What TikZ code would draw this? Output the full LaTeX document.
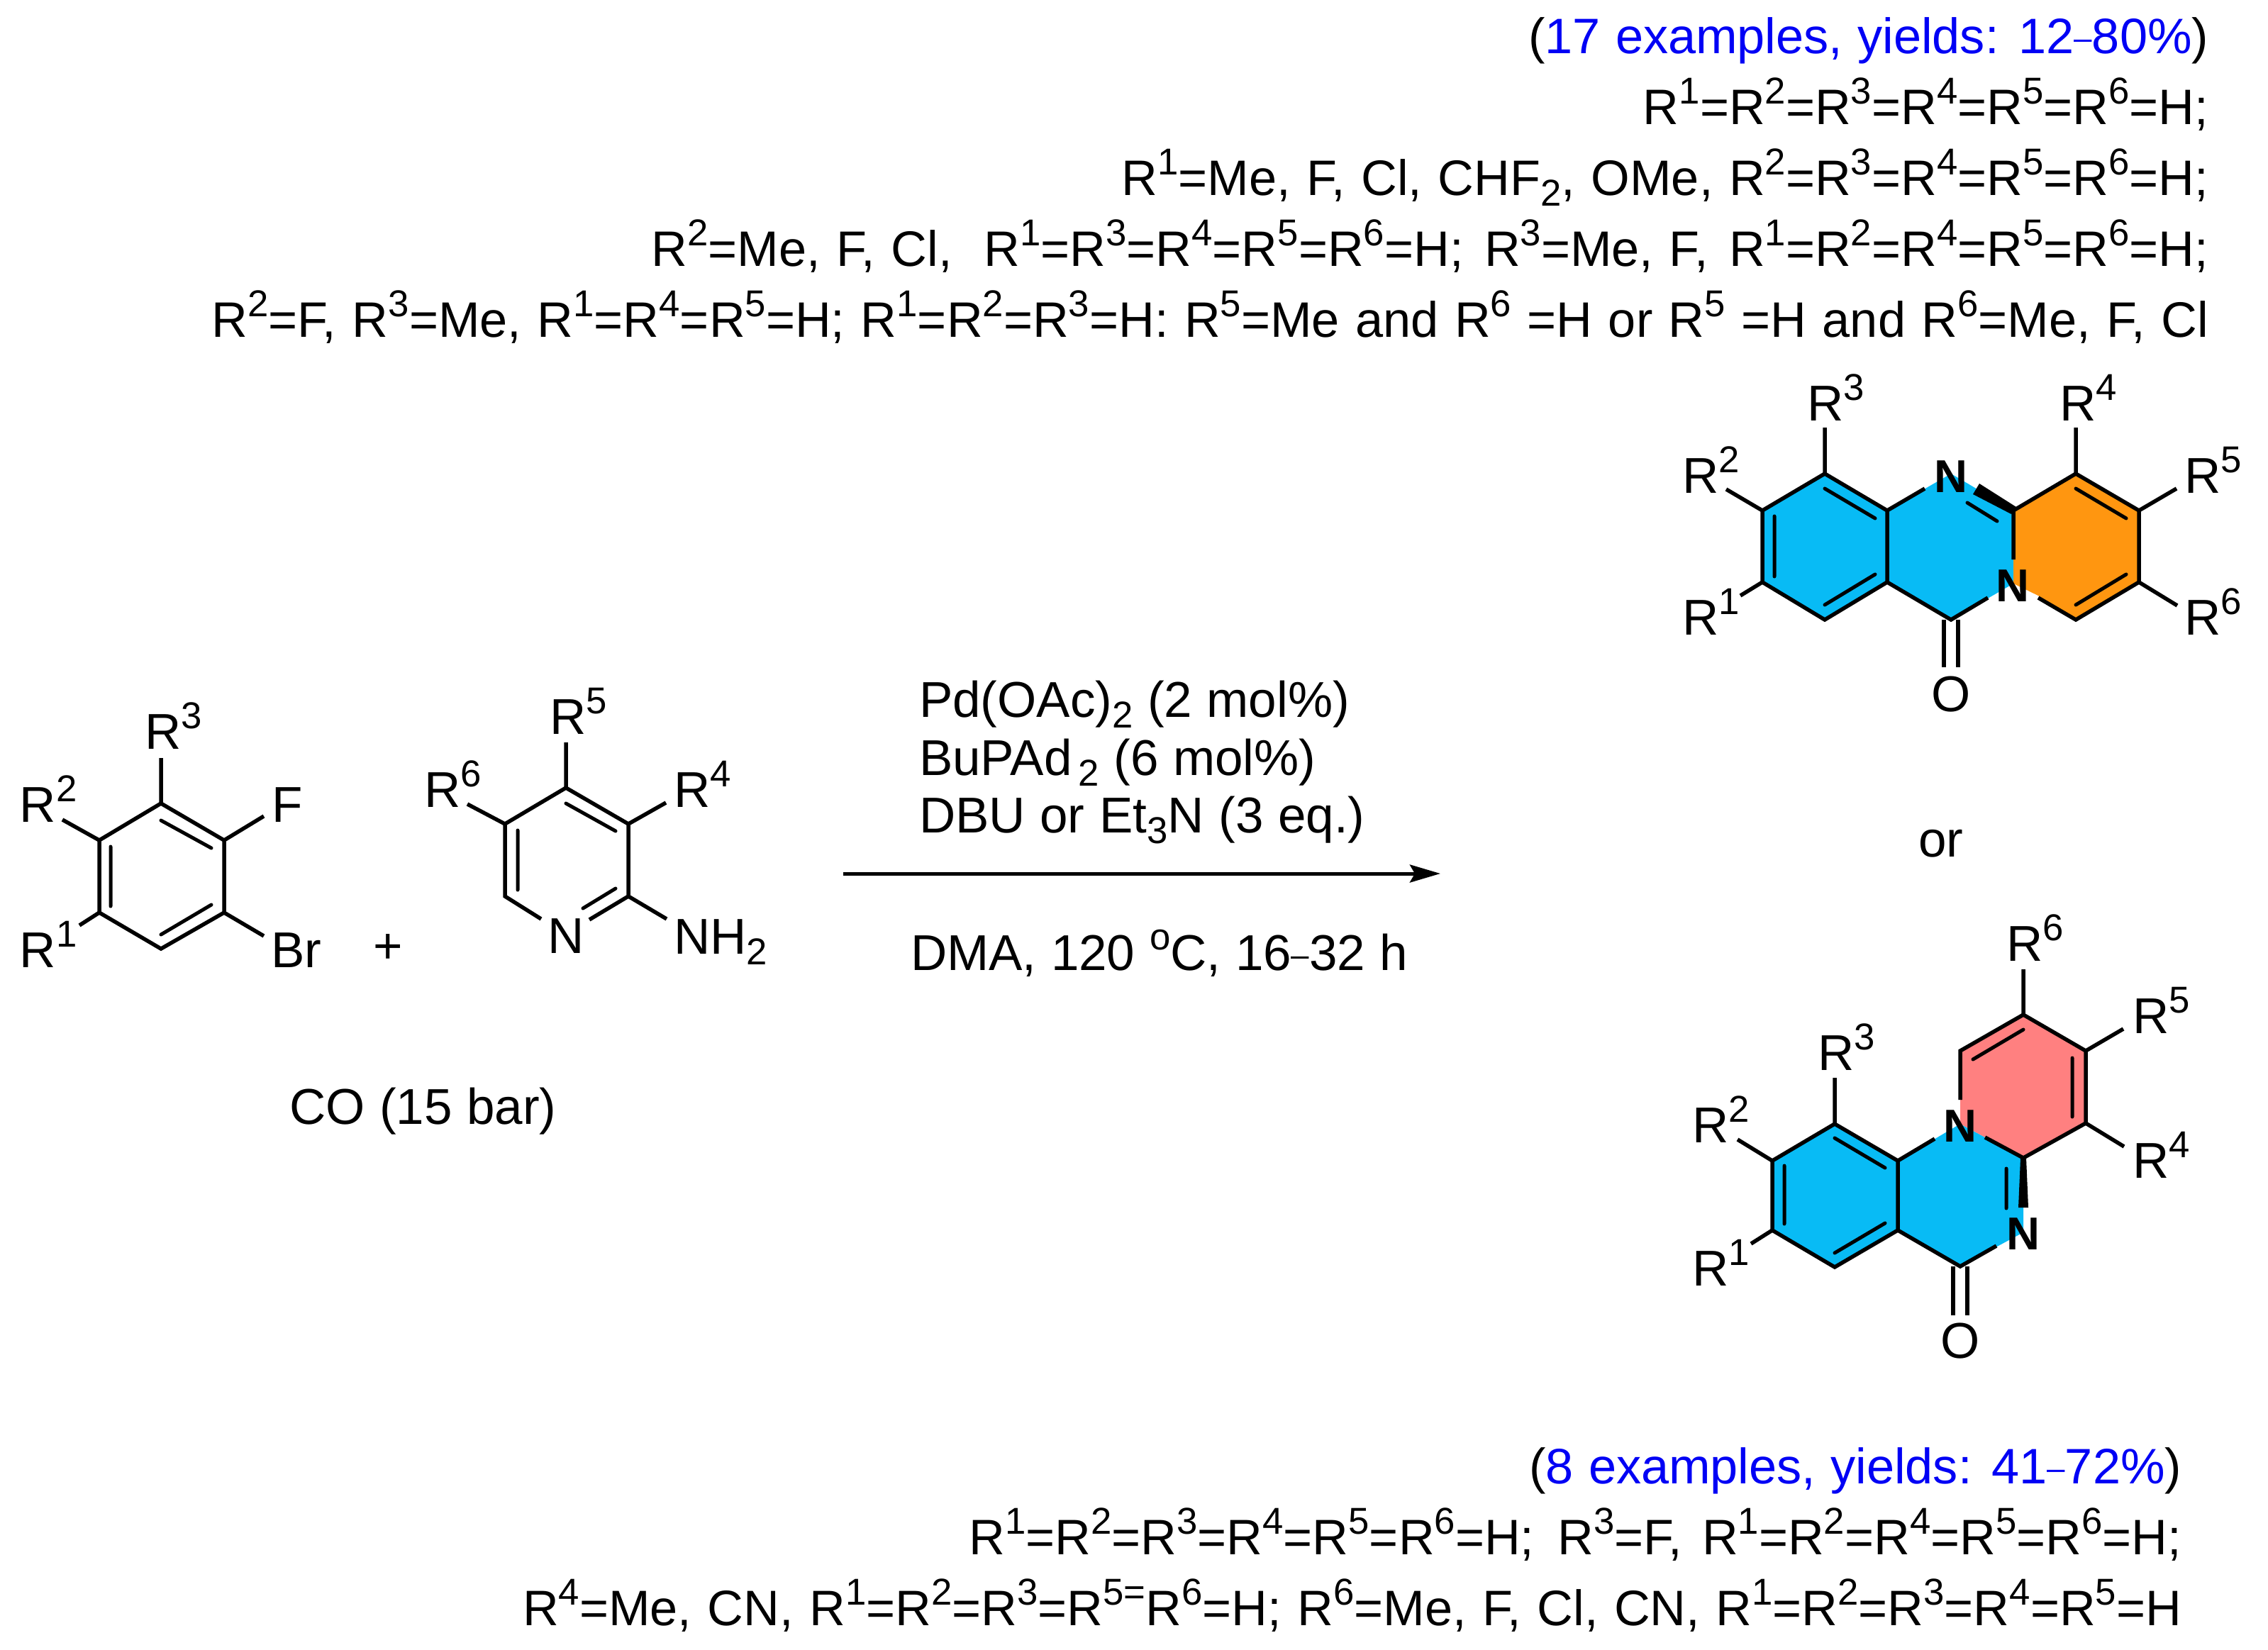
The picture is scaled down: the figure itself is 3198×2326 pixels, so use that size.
\documentclass[tikz,border=0pt]{standalone}
\usepackage{fontspec}
\setmainfont{Liberation Sans}
\usetikzlibrary{arrows.meta}
\definecolor{ringblue}{HTML}{08BBF5}
\definecolor{ringorange}{HTML}{FF9610}
\definecolor{ringpink}{HTML}{FF8080}
\definecolor{yieldblue}{HTML}{0000F5}
\newcommand{\Su}[1]{\raisebox{8pt}{\fontsize{15}{15}\selectfont #1}}
\newcommand{\Sb}[1]{\raisebox{-4.5pt}{\fontsize{15}{15}\selectfont #1}}
\newcommand{\Rr}[1]{R\Su{#1}}
\newcommand{\Yld}[1]{(\textcolor{yieldblue}{\spaceskip=.30em\relax #1})}
\newcommand{\Dsh}{\raisebox{1.7pt}{\fontsize{13}{13}\selectfont –}}
\newcommand{\Lf}{\fontsize{20.2}{23}\selectfont\spaceskip=.29em\relax}
\newcommand{\Tf}{\fontsize{20}{23}\selectfont\spaceskip=.32em\relax}
\tikzset{
  bond/.style={line width=0.55mm,line join=miter,line cap=butt},
  thin bond/.style={line width=0.5mm,line cap=round},
  lab/.style={inner sep=0,outer sep=0,anchor=base west,xshift=-0.4mm,yshift=0.2mm,font=\Lf},
  labc/.style={inner sep=0,outer sep=0,anchor=base,font=\Lf},
  boldn/.style={inner sep=0,outer sep=0,anchor=base,font=\fontsize{18.5}{23}\selectfont\bfseries},
  rtext/.style={inner sep=0,outer sep=0,anchor=base east,font=\Tf},
  rxnarrow/.style={line width=0.5mm,-{Stealth[length=4.3mm,width=2.5mm,inset=0.7mm]}},
}
\begin{document}
\begin{tikzpicture}[x=0.1mm,y=-0.1mm]
\useasboundingbox (0,0) rectangle (3198,2326);
% ---------- atoms: product 1
\foreach \n/\x/\y in {a1/2573/668,a2/2661/720,a3/2661/821,a4/2573/874,a5/2485/821,a6/2485/720,
  n1/2751/668,c1/2839/720,n2/2839/823,c2/2751/874,
  b1/2927/668,b2/3016/720,b3/3016/821,b4/2927/874,
  orc/2876/841,
  e1/2573/603,e2/2434/690,e3/2454/840,e4/2927/603,e5/3069/689,e6/3070/854,
  i1/2502/728,i2/2502/813,i3/2573/689,i4/2644/731,i5/2573/853,i6/2644/810,
  i7/2927/689,i8/2998/731,i9/2927/853,i10/2998/810,i11/2774/709,i12/2816/735,
  t1/2714/689,t2/2839/789,t3/2803/843,t4/2874/843,
  o2/2741/941,o4/2761/941,
  w1/2791/682,w2/2782/697,w3/2843/715,w4/2836/725}
  \coordinate (\n) at (\x,\y);
\fill[ringblue] (a1)--(a2)--(n1)--(c1)--(n2)--(c2)--(a3)--(a4)--(a5)--(a6)--cycle;
\fill[ringorange] (c1)--(b1)--(b2)--(b3)--(b4)--(orc)--(n2)--cycle;
\draw[bond] (a6)--(a1)--(a2)--(a3)--(a4)--(a5)--cycle;
\draw[bond] (e1)--(a1) (e2)--(a6) (e3)--(a5);
\draw[bond] (a2)--(t1) (c1)--(t2) (t3)--(c2)--(a3) (t4)--(b4)--(b3)--(b2)--(b1)--(c1);
\draw[bond] (e4)--(b1) (e5)--(b2) (e6)--(b3);
\draw[thin bond] (i1)--(i2) (i3)--(i4) (i5)--(i6) (i7)--(i8) (i9)--(i10) (i11)--(i12);
\draw[bond] (c2)++(-10,0)--(o2) (c2)++(10,0)--(o4);
\fill (w1)--(w2)--(w4)--(w3)--cycle;
\node[boldn] (pN1) at (2751,694) {N};
\node[boldn] (pN2) at (2838,848) {N};
\node[labc] (pO) at (2751,1003) {O};
\node[lab] (pR1) at (2376,897) {\Rr1};
\node[lab] (pR2) at (2376,697) {\Rr2};
\node[lab] (pR3) at (2552,595) {\Rr3};
\node[lab] (pR4) at (2908,595) {\Rr4};
\node[lab] (pR5) at (3084,697) {\Rr5};
\node[lab] (pR6) at (3084,897) {\Rr6};
% ---------- atoms: product 2
\foreach \n/\x/\y in {qa1/2587/1585,qa2/2676/1637,qa3/2676/1735,qa4/2587/1787,qa5/2499/1735,qa6/2499/1637,
  qn1/2764/1585,qc1/2853/1633,qn2/2853/1738,qc2/2764/1786,
  qb1/2764/1482,qb2/2853/1431,qb3/2941/1482,qb4/2941/1584,
  qe1/2587/1520,qe2/2450/1607,qe3/2469/1754,qe4/2853/1367,qe5/2994/1451,qe6/2995/1617,
  qi1/2516/1644,qi2/2516/1726,qi3/2587/1605,qi4/2658/1647,qi5/2587/1767,qi6/2658/1725,
  qi7/2922/1492,qi8/2922/1575,qi9/2782/1494,qi10/2853/1452,qi11/2829/1648,qi12/2829/1704,
  qt1/2728/1606,qt2/2799/1604,qt3/2764/1551,qt4/2815/1757,
  qw1/2846/1703,qw2/2860/1703,qw3/2849/1633,qw4/2857/1633,qo2/2754/1855,qo4/2774/1855}
  \coordinate (\n) at (\x,\y);
\fill[ringblue] (qa1)--(qa2)--(qn1)--(qc1)--(qn2)--(qc2)--(qa3)--(qa4)--(qa5)--(qa6)--cycle;
\fill[ringpink] (qn1)--(qb1)--(qb2)--(qb3)--(qb4)--(qc1)--cycle;
\draw[bond] (qa6)--(qa1)--(qa2)--(qa3)--(qa4)--(qa5)--cycle;
\draw[bond] (qe1)--(qa1) (qe2)--(qa6) (qe3)--(qa5);
\draw[bond] (qa2)--(qt1) (qt2)--(qc1)--(qb4)--(qb3)--(qb2)--(qb1)--(qt3);
\draw[bond] (qa3)--(qc2)--(qt4);
\draw[bond] (qe4)--(qb2) (qe5)--(qb3) (qe6)--(qb4);
\draw[thin bond] (qi1)--(qi2) (qi3)--(qi4) (qi5)--(qi6) (qi7)--(qi8) (qi9)--(qi10) (qi11)--(qi12);
\draw[bond] (qc2)++(-10,0)--(qo2) (qc2)++(10,0)--(qo4);
\fill (qw3)--(qw1)--(qw2)--(qw4)--cycle;
\node[boldn] (qN1) at (2764,1610) {N};
\node[boldn] (qN2) at (2853,1762) {N};
\node[labc] (qO) at (2764,1915) {O};
\node[lab] (qR1) at (2390,1815) {\Rr1};
\node[lab] (qR2) at (2390,1613) {\Rr2};
\node[lab] (qR3) at (2567,1511) {\Rr3};
\node[lab] (qR4) at (3011,1663) {\Rr4};
\node[lab] (qR5) at (3011,1459) {\Rr5};
\node[lab] (qR6) at (2833,1357) {\Rr6};
% ---------- bromofluoroarene
\foreach \n/\x/\y in {ra1/227/1133,ra2/316/1185,ra3/316/1287,ra4/227/1338,ra5/140/1287,ra6/140/1185,
  re1/227/1069,re2/88/1156,re3/112/1305,re4/372/1151,re5/372/1320,
  ri1/156/1194,ri2/156/1278,ri3/227/1157,ri4/298/1196,ri5/227/1318,ri6/298/1276}
  \coordinate (\n) at (\x,\y);
\draw[bond] (ra1)--(ra2)--(ra3)--(ra4)--(ra5)--(ra6)--cycle;
\draw[bond] (re1)--(ra1) (re2)--(ra6) (re3)--(ra5) (re4)--(ra2) (re5)--(ra3);
\draw[thin bond] (ri1)--(ri2) (ri3)--(ri4) (ri5)--(ri6);
\node[lab] (rR1) at (32,1366) {\Rr1};
\node[lab] (rR2) at (32,1161) {\Rr2};
\node[lab] (rR3) at (208,1058) {\Rr3};
\node[lab] (rF) at (387,1161) {F};
\node[lab] (rBr) at (386,1366) {Br};
\node[labc] (plus) at (547,1358) {+};
% ---------- aminopyridine
\foreach \n/\x/\y in {sa1/798/1111,sa2/886/1162,sa3/886/1264,sa5/712/1264,sa6/712/1162,
  se1/798/1047,se2/659/1134,se3/939/1132,se4/940/1296,
  st1/763/1296,st2/831/1297,
  si1/730/1171,si2/730/1255,si3/798/1133,si4/868/1172,si5/822/1281,si6/868/1253}
  \coordinate (\n) at (\x,\y);
\draw[bond] (st1)--(sa5)--(sa6)--(sa1)--(sa2)--(sa3)--(st2);
\draw[bond] (se1)--(sa1) (se2)--(sa6) (se3)--(sa2) (se4)--(sa3);
\draw[thin bond] (si1)--(si2) (si3)--(si4) (si5)--(si6);
\node[labc] (sN) at (798,1344) {N};
\node[lab] (sNH) at (954,1347) {NH\Sb2};
\node[lab] (sR4) at (954,1140) {\Rr4};
\node[lab] (sR5) at (779,1037) {\Rr5};
\node[lab] (sR6) at (602,1140) {\Rr6};
\node[lab] (co) at (412,1587) {CO (15 bar)};
% ---------- arrow and conditions
\coordinate (arrS) at (1189,1232);
\coordinate (arrE) at (2031,1232);
\draw[rxnarrow] (arrS)--(arrE);
\node[lab] (c1t) at (1300,1013) {Pd(OAc)\Sb2 (2 mol\%)};
\node[lab] (c2t) at (1300,1095) {BuPAd\Sb{\,2} (6 mol\%)};
\node[lab] (c3t) at (1300,1176) {DBU or Et\Sb3N (3 eq.)};
\node[lab] (c4t) at (1288,1370) {DMA, 120 \Su{o}C, 16\Dsh32 h};
\node[labc] (ortx) at (2737,1208) {or};
% ---------- top text
\node[rtext] (t1a) at (3114,75) {\Yld{17 examples, yields: 12\Dsh80\%}};
\node[rtext] (t2a) at (3114,175) {\Rr1=\Rr2=\Rr3=\Rr4=\Rr5=\Rr6=H;};
\node[rtext] (t3a) at (3114,275) {\Rr1=Me, F, Cl, CHF\Sb2, OMe, \Rr2=\Rr3=\Rr4=\Rr5=\Rr6=H;};
\node[rtext] (t4a) at (3114,375) {\Rr2=Me, F, Cl,\ \ \Rr1=\Rr3=\Rr4=\Rr5=\Rr6=H;\kern2pt\ \Rr3=Me, F,\kern2pt\ \Rr1=\Rr2=\Rr4=\Rr5=\Rr6=H;};
\node[rtext] (t5a) at (3114,475) {\Rr2=F, \Rr3=Me, \Rr1=\Rr4=\Rr5=H; \Rr1=\Rr2=\Rr3=H: \Rr5=Me and \Rr6\ =H or \Rr5\ =H and \Rr6=Me, F, Cl};
% ---------- bottom text
\node[rtext] (b1a) at (3076,2092) {\Yld{8 examples, yields: 41\Dsh72\%}};
\node[rtext] (b2a) at (3076,2192) {\Rr1=\Rr2=\Rr3=\Rr4=\Rr5=\Rr6=H;\kern3pt\ \Rr3=F,\kern1.5pt\ \Rr1=\Rr2=\Rr4=\Rr5=\Rr6=H;};
\node[rtext] (b3a) at (3076,2292) {\Rr4=Me, CN, \Rr1=\Rr2=\Rr3=\Rr5\raisebox{8pt}{\fontsize{15}{15}\selectfont =}\Rr6=H; \Rr6=Me, F, Cl, CN, \Rr1=\Rr2=\Rr3=\Rr4=\Rr5=H};
\end{tikzpicture}
\end{document}
